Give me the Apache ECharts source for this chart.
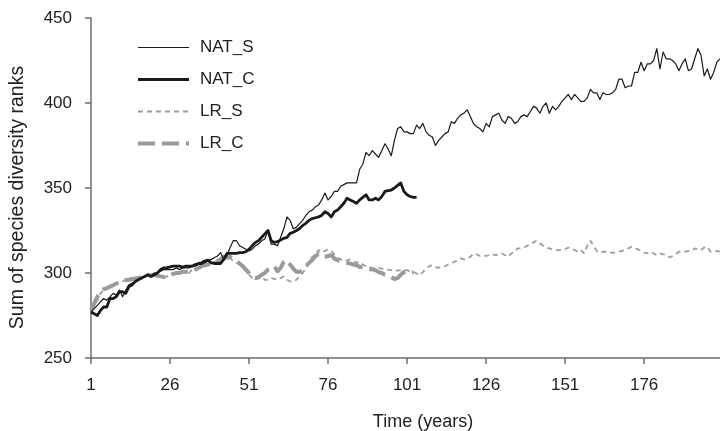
<!DOCTYPE html>
<html>
<head>
<meta charset="utf-8">
<script src="https://cdn.jsdelivr.net/npm/echarts@6/dist/echarts.min.js"></script>
<style>
  html, body { margin: 0; padding: 0; background: #ffffff; }
  #chart { width: 720px; height: 431px; }
</style>
</head>
<body>
<div id="chart"></div>
<script>
// Years 1..200
const years = Array.from({ length: 200 }, (_, i) => String(i + 1));

// NAT_S: natural regeneration, sum of species diversity ranks per year
const natS = [
  277, 279, 281, 283, 285, 284, 286, 288, 287, 290,
  286, 290, 293, 294, 295, 296, 297, 298, 299, 298,
  300, 300, 301, 302, 302, 302, 302, 303, 302, 303,
  303, 303, 304, 304, 305, 305, 306, 307, 308, 309,
  310, 312, 308, 310, 315, 319, 319, 316, 315, 314,
  313, 314, 316, 317, 319, 320, 325, 317, 317, 316,
  321, 326, 333, 331, 326, 327, 329, 331, 334, 336,
  337, 339, 340, 343, 347, 343, 345, 348, 348, 351,
  352, 353, 353, 353, 353, 361, 364, 371, 369, 372,
  370, 368, 372, 376, 373, 369, 378, 385, 386, 383,
  383, 382, 382, 387, 385, 388, 383, 381, 380, 375,
  378, 380, 382, 383, 389, 388, 391, 393, 394, 396,
  392, 388, 386, 385, 383, 388, 386, 392, 393, 394,
  390, 388, 392, 391, 388, 389, 392, 393, 392, 395,
  398, 397, 394, 398, 400, 394, 398, 396, 398, 401,
  403, 405, 402, 405, 403, 401, 401, 403, 408, 406,
  406, 402, 406, 405, 405, 406, 408, 414, 414, 409,
  410, 410, 418, 418, 424, 419, 423, 423, 425, 432,
  420, 430, 426, 426, 425, 423, 419, 423, 426, 419,
  420, 426, 432, 428, 416, 420, 414, 418, 424, 426
];

// NAT_C: years 1..104
const natC = [
  277, 276, 275, 278, 280, 280, 285, 285, 286, 289,
  289, 288, 292, 293, 295, 296, 297, 298, 299, 298,
  299, 300, 302, 303, 303, 303.6, 304, 304, 304, 303.5,
  304, 304, 304, 305, 305.6, 306, 307, 307.6, 306, 305.6,
  305.6, 305.6, 308, 311.5, 311.5, 311.5, 311.5, 312, 312, 312.5,
  314, 316, 318, 319, 321, 323, 325, 319, 318, 318.4,
  319.4, 320.4, 321, 323.3, 324, 325, 326.2, 328, 329.2, 331,
  332, 332.5, 333, 334, 336, 335, 333, 336, 337, 339,
  341, 344, 343, 342, 341, 343, 344.5, 346, 343, 343,
  344, 343, 345, 348, 348.5, 348.8, 350, 351.5, 353, 348,
  346, 345, 344.5, 344.5
];

// LR_S: years 1..200
const lrS = [
  278, 281, 284, 288, 290, 291, 292, 293, 294, 294,
  295, 296, 296, 296.5, 296, 297, 297, 298, 299, 299,
  298, 299, 298, 297, 298, 299, 300, 299, 300, 300,
  300.5, 300, 302, 302, 303, 304, 304.5, 305, 306, 306.5,
  307, 308, 309, 309.5, 309, 307, 306, 305, 304, 302,
  299, 297, 296, 297, 298, 296, 296, 297, 296.5, 296,
  297, 298, 296, 295, 295, 296, 298, 300, 303, 307,
  309.5, 311, 313.5, 312, 313, 313.9, 313, 311, 309, 308,
  307, 307.5, 308, 307, 306, 306.6, 305, 304, 303.6, 303,
  302.5, 303, 302.5, 302.7, 302, 301.7, 301, 301.5, 301.5, 301.7,
  301.7, 301, 300.7, 299.7, 298.7, 300.5, 302.7, 304, 304.6, 303.5,
  303, 303.5, 304, 305, 305.5, 306.6, 307.5, 308.6, 308, 308.5,
  309.5, 311.5, 311, 310, 310.5, 310, 310.5, 311, 310.5, 311,
  311.5, 310.5, 309.5, 311.5, 312.5, 314.5, 314.5, 315, 316, 317,
  318, 319, 317.5, 316, 315, 314.5, 313.9, 313.5, 313.5, 313.5,
  314, 315, 314.5, 313.5, 312.5, 313.5, 311.5, 316, 319, 316,
  313, 311.9, 312.5, 312.5, 312, 311.9, 312, 312.5, 313, 313.5,
  314.5, 315.4, 314.5, 314, 313, 312, 311.5, 312.5, 311.5, 310.5,
  311.5, 311, 310.5, 309.2, 310, 311, 312.5, 312.5, 312.5, 313,
  313, 314.5, 314, 313.5, 315, 315.4, 312.5, 312.5, 313, 312.5
];

// LR_C: years 1..103
const lrC = [
  278, 282, 286, 289, 290.5, 291, 292, 292.8, 293.8, 294.5,
  295, 295.8, 296, 296.5, 296.8, 297, 297.5, 298, 298.5, 298.7,
  299, 298.5, 298, 297.7, 297.7, 298.5, 299.5, 300, 300, 300.7,
  300.7, 300.5, 301, 302, 303, 304, 304.6, 305, 305.5, 306.6,
  307, 308, 309.5, 309, 309.5, 308, 307, 305.6, 304, 302,
  300, 298, 297, 297.5, 299, 300, 302, 303, 304, 301,
  303, 306.6, 307.6, 305, 302.6, 300.7, 300.7, 301.5, 304, 306,
  307.6, 310, 311, 309.5, 309.5, 310, 310.5, 308.5, 307.5, 307,
  306.6, 306, 305.5, 305, 304.6, 303.6, 303.6, 303, 302.5, 302,
  301.7, 300.5, 300, 299, 298.7, 297.5, 296.5, 297, 299, 300.5,
  301, 300.1, 300.5
];

// Value axis ticks
const yTicks = { min: 250, max: 450, step: 50 };

const FONT = '"Liberation Sans", Arial, sans-serif';
const AXIS_COLOR = '#6e6e6e';
const TEXT_COLOR = '#222222';

const chart = echarts.init(document.getElementById('chart'), null, { renderer: 'canvas' });

chart.setOption({
  backgroundColor: '#ffffff',
  animation: false,
  grid: { left: 91, right: 0, top: 18, bottom: 73, containLabel: false, outerBoundsMode: 'none' },
  legend: {
    orient: 'vertical',
    left: 136,
    top: 39,
    padding: 0,
    itemWidth: 51,
    itemHeight: 14,
    itemGap: 15,
    itemStyle: { opacity: 0 },
    lineStyle: { width: 'inherit' },
    textStyle: { fontFamily: FONT, fontSize: 17, color: TEXT_COLOR, padding: [0, 0, 0, 6] },
    data: ['NAT_S', 'NAT_C', 'LR_S', 'LR_C']
  },
  xAxis: {
    type: 'category',
    data: years,
    boundaryGap: false,
    name: 'Time (years)',
    nameLocation: 'middle',
    nameGap: 55,
    nameTextStyle: { fontFamily: FONT, fontSize: 18, color: TEXT_COLOR, padding: [0, 0, 0, 35] },
    axisLine: { lineStyle: { color: AXIS_COLOR, width: 1.5 } },
    axisTick: { show: true, interval: 24, length: 6, alignWithLabel: true, lineStyle: { color: AXIS_COLOR, width: 1.5 } },
    axisLabel: { interval: 24, margin: 19, fontFamily: FONT, fontSize: 17, color: TEXT_COLOR },
    splitLine: { show: false }
  },
  yAxis: {
    type: 'value',
    min: yTicks.min,
    max: yTicks.max,
    interval: yTicks.step,
    name: 'Sum of species diversity ranks',
    nameLocation: 'middle',
    nameGap: 63,
    nameRotate: 90,
    nameTextStyle: { fontFamily: FONT, fontSize: 19.5, color: TEXT_COLOR, padding: [0, 19, 0, 0] },
    axisLine: { show: true, lineStyle: { color: AXIS_COLOR, width: 1.5 } },
    axisTick: { show: true, length: 6, lineStyle: { color: AXIS_COLOR, width: 1.5 } },
    axisLabel: { margin: 19, fontFamily: FONT, fontSize: 17, color: TEXT_COLOR },
    splitLine: { show: false }
  },
  series: [
    {
      name: 'NAT_S', type: 'line', data: natS, symbol: 'none', z: 4,
      color: '#1a1a1a',
      lineStyle: { color: '#1a1a1a', width: 1.2, join: 'round' }
    },
    {
      name: 'NAT_C', type: 'line', data: natC, symbol: 'none', z: 5,
      color: '#1a1a1a',
      lineStyle: { color: '#1a1a1a', width: 2.8, join: 'round' }
    },
    {
      name: 'LR_S', type: 'line', data: lrS, symbol: 'none', z: 3,
      color: '#9d9d9d',
      lineStyle: { color: '#9d9d9d', width: 1.8, type: [5, 4], cap: 'butt' }
    },
    {
      name: 'LR_C', type: 'line', data: lrC, symbol: 'none', z: 2,
      color: '#9a9a9a',
      lineStyle: { color: '#9a9a9a', width: 4, type: [17, 7], cap: 'butt', join: 'round' }
    }
  ]
});
</script>
</body>
</html>
